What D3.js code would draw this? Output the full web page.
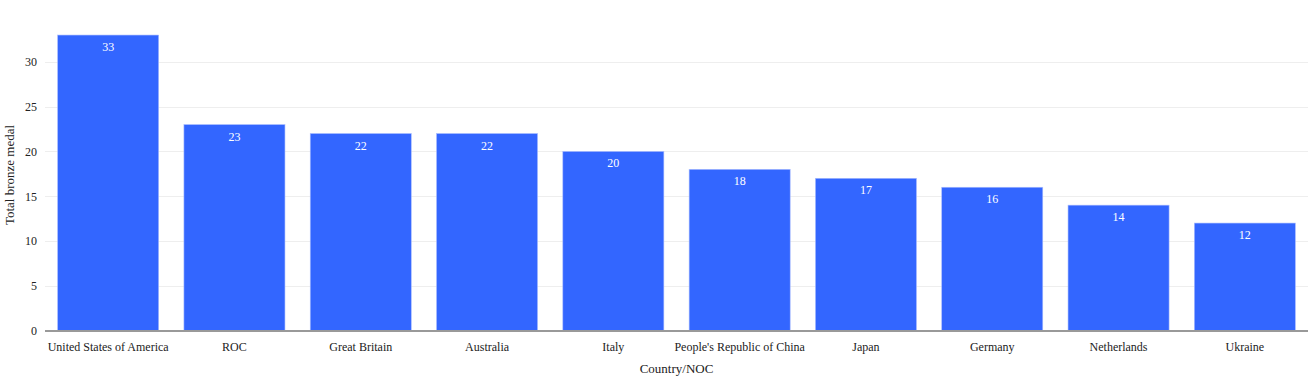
<!DOCTYPE html>
<html>
<head>
<meta charset="utf-8">
<script src="https://cdn.jsdelivr.net/npm/d3@7"></script>
<style>
  body { margin: 0; background: #fff; }
  svg { display: block; font-family: "Liberation Serif", "Times New Roman", serif; }
</style>
</head>
<body>
<div id="chart1"></div>
<script>
const countries = ["United States of America", "ROC", "Great Britain", "Australia", "Italy",
  "People's Republic of China", "Japan", "Germany", "Netherlands", "Ukraine"];
const bronze = [33, 23, 22, 22, 20, 18, 17, 16, 14, 12];
const yTicks = [0, 5, 10, 15, 20, 25, 30];

const width = 1308;
const height = 376;
const margin = ({top: 19.5, right: 0, bottom: 45.5, left: 45});

const svg = d3.select("#chart1")
    .append("svg")
    .attr("width", width)
    .attr("height", height)
    .attr("viewBox", [0, 0, width, height]);

const x = d3.scaleBand()
    .domain(countries)
    .range([margin.left, width - margin.right])
    .paddingInner(0.2)
    .paddingOuter(0.1);

const y = d3.scaleLinear()
    .domain([0, 33 * 1.0526])
    .range([height - margin.bottom, margin.top]);

// gridlines
svg.append("g")
    .selectAll("line")
    .data(yTicks.slice(1))
    .join("line")
    .attr("x1", margin.left)
    .attr("x2", width - margin.right)
    .attr("y1", d => Math.round(y(d)) + 0.5)
    .attr("y2", d => Math.round(y(d)) + 0.5)
    .attr("stroke", "#eeeeee");

// y axis labels
const yAxis = svg.append("g")
    .attr("transform", `translate(${margin.left}, 0)`)
    .call(d3.axisLeft(y).tickValues(yTicks).tickSize(0).tickPadding(8));
yAxis.select(".domain").remove();
yAxis.selectAll("text").attr("font-size", 12).attr("fill", "#222")
    .attr("font-family", "Liberation Serif, serif");

// bars
const bar = svg.selectAll(".bar")
    .data(countries.map((c, i) => ({country: c, value: bronze[i]})))
    .join("g")
    .attr("class", "bar");

bar.append("rect")
    .attr("fill", "#3366ff")
    .attr("stroke", "#a9bcff")
    .attr("stroke-width", 0.6)
    .attr("x", d => x(d.country))
    .attr("width", x.bandwidth())
    .attr("y", d => y(d.value))
    .attr("height", d => y(0) - y(d.value));

bar.append("text")
    .text(d => d.value)
    .attr("x", d => x(d.country) + x.bandwidth() / 2)
    .attr("y", d => y(d.value) + 16)
    .attr("text-anchor", "middle")
    .attr("font-size", 12)
    .attr("fill", "white");

// zero line
svg.append("line")
    .attr("x1", margin.left)
    .attr("x2", width - margin.right)
    .attr("y1", y(0) + 0.5)
    .attr("y2", y(0) + 0.5)
    .attr("stroke", "#999")
    .attr("stroke-width", 2);

// x axis labels
const xAxis = svg.append("g")
    .attr("transform", `translate(0, ${y(0)})`)
    .call(d3.axisBottom(x).tickSize(0).tickPadding(12));
xAxis.select(".domain").remove();
xAxis.selectAll("text").attr("font-size", 12).attr("fill", "#222")
    .attr("font-family", "Liberation Serif, serif");

// axis titles
svg.append("text")
    .text("Country/NOC")
    .attr("x", (margin.left + width - margin.right) / 2)
    .attr("y", 373)
    .attr("text-anchor", "middle")
    .attr("font-size", 13)
    .attr("fill", "#222");

svg.append("text")
    .text("Total bronze medal")
    .attr("transform", `translate(14, ${(margin.top + y(0)) / 2}) rotate(-90)`)
    .attr("text-anchor", "middle")
    .attr("font-size", 13)
    .attr("fill", "#222");
</script>
</body>
</html>
